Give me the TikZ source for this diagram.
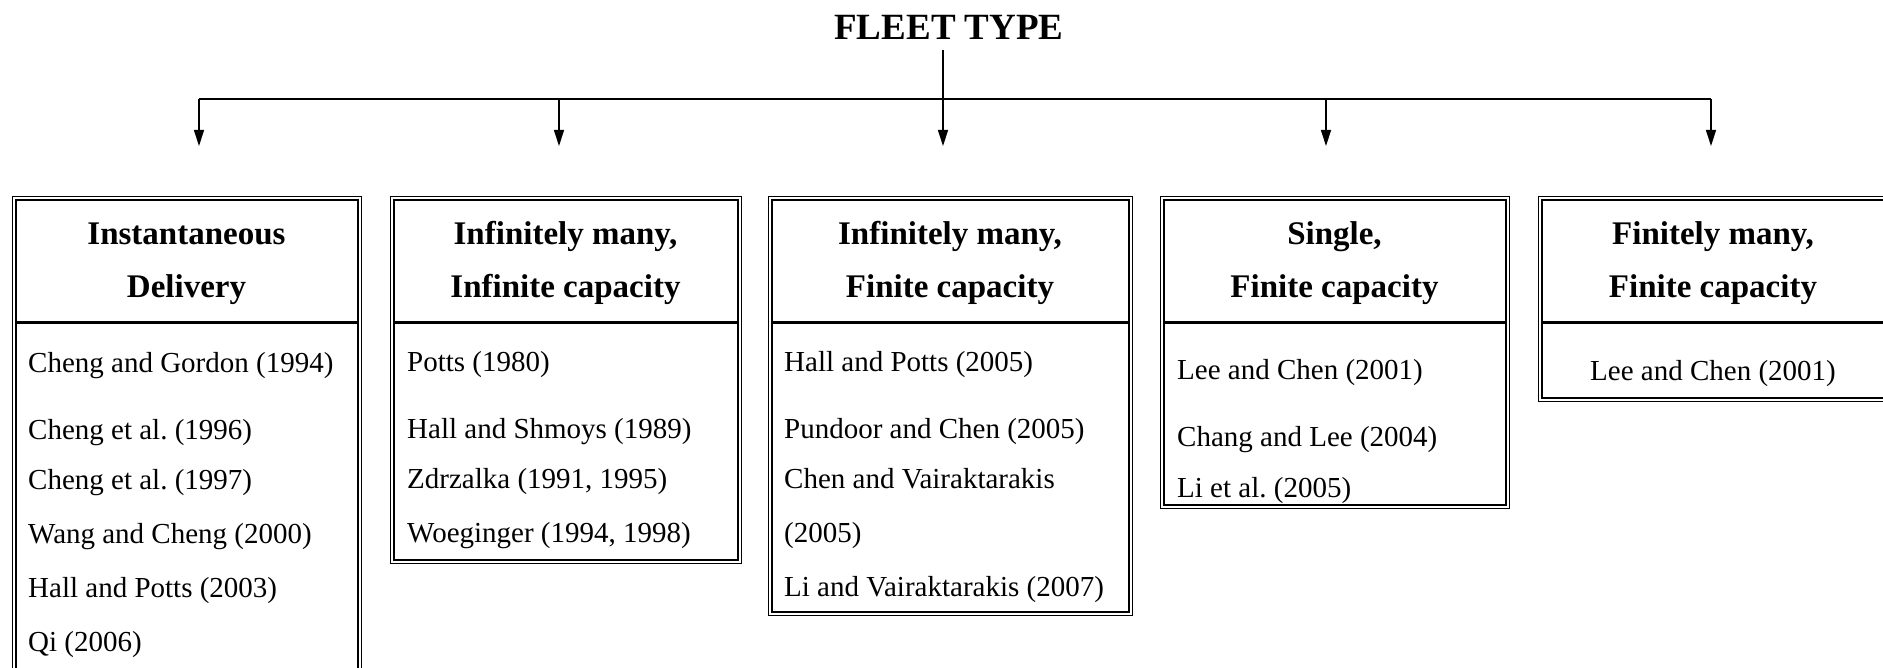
\documentclass[tikz,border=0pt]{standalone}
\usepackage{fontspec}
\setmainfont{Liberation Serif}
\frenchspacing
\usetikzlibrary{arrows.meta}
\tikzset{
  outerbox/.style={draw, line width=1pt, inner sep=0pt, anchor=north west},
  innerline/.style={line width=2.7pt},
  divline/.style={line width=3pt},
  head/.style={font=\fontsize{33}{40}\selectfont\bfseries, anchor=base, inner sep=0pt},
  item/.style={font=\fontsize{29}{35}\selectfont, anchor=base west, inner sep=0pt},
  itemc/.style={font=\fontsize{29}{35}\selectfont, anchor=base, inner sep=0pt},
  conn/.style={line width=1.3pt},
  arr/.style={conn, -{Triangle[length=16pt,width=10pt]}},
}
\begin{document}
\begin{tikzpicture}[x=1pt,y=-1pt]
\useasboundingbox (0,0) rectangle (1883,668);
\clip (0,0) rectangle (1883,668);

% title and connectors
\node[font=\fontsize{37}{44}\selectfont\bfseries, anchor=base, inner sep=0pt] (title) at (949,40) {FLEET TYPE};
\coordinate (hub) at (943,99);
\coordinate (a1) at (199,99);
\coordinate (a2) at (559,99);
\coordinate (a3) at (943,99);
\coordinate (a4) at (1326,99);
\coordinate (a5) at (1711,99);
\coordinate (div) at (0,323);

% boxes
\node[outerbox, minimum width=349pt, minimum height=510pt] (b1) at (12,196) {};
\node[outerbox, minimum width=351pt, minimum height=367pt] (b2) at (390,196) {};
\node[outerbox, minimum width=364pt, minimum height=419pt] (b3) at (768,196) {};
\node[outerbox, minimum width=349pt, minimum height=312pt] (b4) at (1160,196) {};
\node[outerbox, minimum width=350pt, minimum height=205pt] (b5) at (1538,196) {};

\foreach \b in {b1,b2,b3,b4,b5}{
  \draw[innerline] ([shift={(3.9pt,-3.9pt)}]\b.north west) rectangle ([shift={(-3.9pt,3.9pt)}]\b.south east);
  \draw[divline] ([xshift=3.9pt]\b.west |- div) -- ([xshift=-3.9pt]\b.east |- div);
}

\draw[conn] ([yshift=-10pt]title.south -| hub) -- (hub);
\draw[conn] (a1) -- (a5);
\draw[arr, shorten >=50pt] (a1) -- (a1 |- b1.north);
\draw[arr, shorten >=50pt] (a2) -- (a2 |- b2.north);
\draw[arr, shorten >=50pt] (a3) -- (a3 |- b3.north);
\draw[arr, shorten >=50pt] (a4) -- (a4 |- b4.north);
\draw[arr, shorten >=50pt] (a5) -- (a5 |- b5.north);

% headers
\node[head] (h1a) at (186.5,245) {Instantaneous};
\node[head] (h1b) at (186.5,298) {Delivery};
\node[head] (h2a) at (565.5,245) {Infinitely many,};
\node[head] (h2b) at (565.5,298) {Infinite capacity};
\node[head] (h3a) at (950,245) {Infinitely many,};
\node[head] (h3b) at (950,298) {Finite capacity};
\node[head] (h4a) at (1334.5,245) {Single,};
\node[head] (h4b) at (1334.5,298) {Finite capacity};
\node[head] (h5a) at (1713,245) {Finitely many,};
\node[head] (h5b) at (1713,298) {Finite capacity};

% box 1 items
\node[item] (i11) at (28,373) {Cheng and Gordon (1994)};
\node[item] (i12) at (28,439) {Cheng et al. (1996)};
\node[item] (i13) at (28,489) {Cheng et al. (1997)};
\node[item] (i14) at (28,543) {Wang and Cheng (2000)};
\node[item] (i15) at (28,597) {Hall and Potts (2003)};
\node[item] (i16) at (28,651) {Qi (2006)};

% box 2 items
\node[item] (i21) at (407,372) {Potts (1980)};
\node[item] (i22) at (407,438) {Hall and Shmoys (1989)};
\node[item] (i23) at (407,488) {Zdrzalka (1991, 1995)};
\node[item] (i24) at (407,542) {Woeginger (1994, 1998)};

% box 3 items
\node[item] (i31) at (784,372) {Hall and Potts (2005)};
\node[item] (i32) at (784,438) {Pundoor and Chen (2005)};
\node[item] (i33) at (784,488) {Chen and Vairaktarakis};
\node[item] (i34) at (784,542) {(2005)};
\node[item] (i35) at (784,596) {Li and Vairaktarakis (2007)};

% box 4 items
\node[item] (i41) at (1177,380) {Lee and Chen (2001)};
\node[item] (i42) at (1177,446) {Chang and Lee (2004)};
\node[item] (i43) at (1177,497) {Li et al. (2005)};

% box 5 items
\node[itemc] (i51) at (1713,381) {Lee and Chen (2001)};
\end{tikzpicture}
\end{document}
